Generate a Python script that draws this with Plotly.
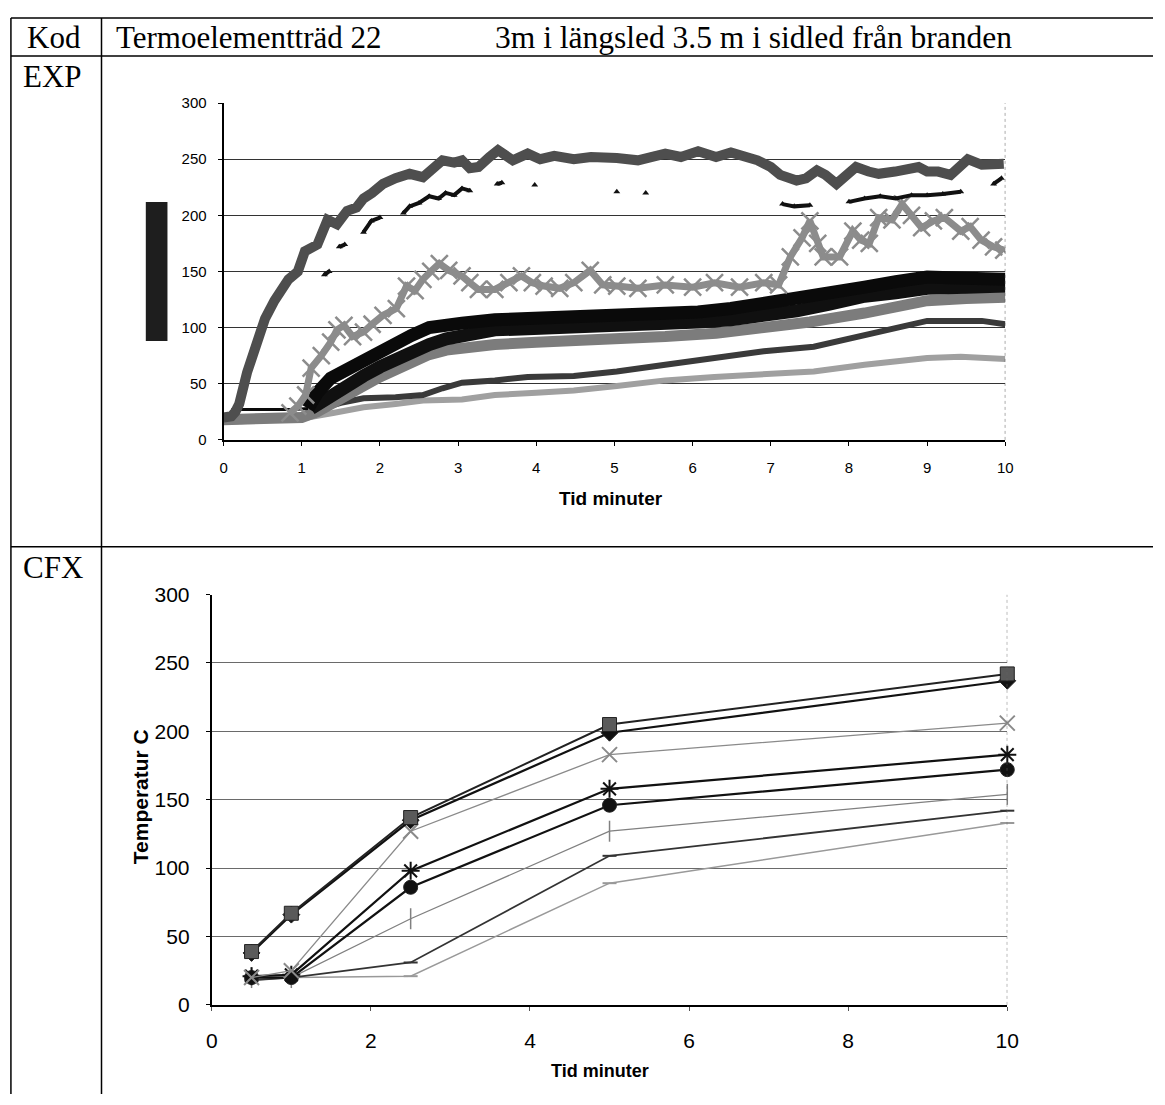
import plotly.graph_objects as go

tA = [0.0, 0.1, 0.15, 0.2, 0.3, 0.4, 0.53, 0.65, 0.83, 0.95,
      1.04, 1.2, 1.33, 1.45, 1.58, 1.7, 1.79, 1.9, 2.04, 2.2,
      2.38, 2.55, 2.7, 2.8, 2.95, 3.05, 3.15, 3.26, 3.4, 3.51,
      3.7, 3.89, 4.05, 4.23, 4.48, 4.7, 5.03, 5.3, 5.65, 5.85,
      6.07, 6.3, 6.49, 6.7, 6.83, 7.0, 7.12, 7.33, 7.45, 7.59,
      7.7, 7.84, 8.0, 8.09, 8.25, 8.38, 8.59, 8.75, 8.89, 9.0,
      9.14, 9.3, 9.52, 9.7, 9.85, 9.98]
vA = [20, 21, 25, 32, 60, 80, 108, 124, 143, 150,
      168, 174, 196, 192, 204, 207, 215, 220, 228, 233,
      237, 234, 244, 249, 247, 249, 242, 243, 252, 258,
      249, 255, 250, 253, 250, 252, 251, 249, 255, 252,
      257, 252, 256, 252, 249, 243, 236, 231, 233, 240,
      236, 228, 236, 243, 239, 237, 239, 242, 243, 239,
      239, 236, 250, 245, 246, 246]

tB = [1.29, 1.35, 1.42, 1.48, 1.55, 1.7, 1.79, 1.89, 2.0, 2.15,
      2.3, 2.38, 2.5, 2.63, 2.75, 2.84, 2.95, 3.05, 3.15, 3.3,
      3.5, 3.56, 3.8, 3.98, 4.5, 5.03, 5.2, 5.4, 6.5, 7.15,
      7.3, 7.5, 7.8, 8.0, 8.2, 8.4, 8.6, 8.8, 9.0, 9.2,
      9.43, 9.65, 9.85, 9.95]
vB = [147, 150, None, 172, 174, None, 185, 195, 198, None,
      202, 208, 211, 217, 215, 220, 218, 224, 222, None,
      228, 229, None, 227, None, 221, None, 220, None, 210,
      208, 209, None, 212, 215, 217, 215, 218, 218, 219,
      221, None, 228, 233]

tC = [0.85, 0.95, 1.05, 1.12, 1.25, 1.37, 1.45, 1.54, 1.65, 1.79,
      1.9, 2.04, 2.21, 2.34, 2.45, 2.55, 2.65, 2.76, 2.88, 3.05,
      3.15, 3.26, 3.47, 3.65, 3.81, 3.95, 4.1, 4.3, 4.48, 4.69,
      4.85, 5.03, 5.3, 5.65, 6.0, 6.28, 6.6, 6.91, 7.1, 7.25,
      7.4, 7.5, 7.6, 7.67, 7.88, 8.05, 8.15, 8.26, 8.38, 8.55,
      8.68, 8.8, 8.93, 9.08, 9.22, 9.43, 9.55, 9.69, 9.85, 9.98]
vC = [24, 30, 40, 64, 75, 87, 98, 102, 92, 96,
      103, 111, 117, 137, 133, 143, 150, 157, 151, 146,
      140, 134, 134, 140, 146, 140, 137, 135, 140, 151,
      138, 137, 135, 138, 136, 140, 136, 140, 138, 163,
      180, 195, 175, 163, 163, 186, 178, 175, 198, 196,
      210, 200, 189, 195, 198, 186, 190, 178, 172, 169]

# upper black series: thin flat start, then a thick band
tD0 = [0.1, 0.5, 0.9, 1.08]
vD0 = [27, 27, 27, 28]
tD1 = [1.08, 1.2, 1.37, 1.55, 1.79, 2.0,
       2.21, 2.4, 2.63, 2.85, 3.05, 3.47, 3.89, 4.48, 5.03, 5.65,
       6.07, 6.49, 6.91, 7.33, 7.75, 8.2, 8.6, 9.0, 9.5, 10.0]
vD1 = [28, 42, 55, 62, 72, 80,
       86, 93, 100, 103, 104, 107, 108, 109, 110, 112,
       114, 117, 121, 126, 131, 136, 141, 145, 144, 143]

tD2 = [1.12, 1.25, 1.37, 1.55, 1.79, 2.0, 2.21, 2.4, 2.63, 2.85,
       3.05, 3.47, 3.89, 4.48, 5.03, 5.65, 6.07, 6.49, 6.91, 7.33,
       7.75, 8.2, 8.6, 9.0, 9.5, 10.0]
vD2 = [28, 34, 40, 48, 57, 65, 72, 78, 85, 90,
       93, 98, 99, 100, 101, 103, 105, 107, 110, 115,
       121, 128, 131, 135, 136, 137]

tE = [0.0, 0.5, 1.0, 1.2, 1.4, 1.6, 1.79, 2.0, 2.21, 2.4,
      2.63, 2.85, 3.05, 3.47, 4.0, 4.48, 5.0, 5.65, 6.3, 6.91,
      7.5, 8.2, 8.6, 9.0, 9.5, 10.0]
vE = [18, 18, 20, 25, 32, 40, 48, 56, 63, 70,
      76, 80, 82, 85, 87, 88, 89, 92, 95, 99,
      105, 113, 119, 124, 126, 127]

tF = [0.0, 0.5, 1.0, 1.2, 1.5, 1.79, 2.2, 2.55, 2.8, 3.05,
      3.47, 3.89, 4.48, 5.03, 5.65, 6.28, 6.91, 7.55, 8.2, 8.59,
      9.0, 9.43, 9.7, 10.0]
vF = [20, 20, 22, 27, 33, 37, 38, 40, 46, 51,
      53, 56, 57, 61, 67, 73, 79, 83, 93, 99,
      106, 106, 106, 103]

tG = [0.0, 0.5, 1.0, 1.4, 1.79, 2.2, 2.55, 3.05, 3.47, 4.0,
      4.48, 5.03, 5.65, 6.28, 6.91, 7.55, 8.2, 8.6, 9.0, 9.43,
      9.7, 10.0]
vG = [16, 17, 19, 24, 29, 32, 35, 36, 40, 42,
      44, 48, 53, 56, 58, 61, 67, 70, 73, 74,
      73, 72]

# ---------------- CFX (simulated) data ----------------
cfx_t = [0.5, 1, 2.5, 5, 10]
cfx_square = [39, 67, 137, 205, 242]
cfx_diamond = [38, 66, 135, 199, 237]
cfx_xgray = [20, 25, 127, 183, 206]
cfx_asterisk = [21, 22, 98, 158, 183]
cfx_circle = [20, 20, 86, 146, 172]
cfx_plus = [20, 20, 63, 127, 154]
cfx_dash_dark = [18, 20, 31, 109, 142]
cfx_dash_light = [18, 20, 21, 89, 133]

y_ticks = [0, 50, 100, 150, 200, 250, 300]

# ---------------- text ----------------
hdr_kod = "Kod"
hdr_tree = "Termoelementträd 22"
hdr_pos = "3m i längsled 3.5 m i sidled från branden"
row_exp = "EXP"
row_cfx = "CFX"
x_title = "Tid minuter"
y_title = "Temperatur C"

W, H = 1165, 1105


def PX(x):
    return x / W


def PY(y):
    return 1 - y / H


fig = go.Figure()

# EXP traces
exp_specs = [
    (tG, vG, "#a0a0a0", 6),
    (tF, vF, "#3a3a3a", 6),
    (tE, vE, "#7c7c7c", 11),
    (tD2, vD2, "#101010", 13),
    (tD1, vD1, "#0a0a0a", 13),
    (tD0, vD0, "#0a0a0a", 3),
]
for t, v, col, w in exp_specs:
    fig.add_trace(go.Scatter(x=t, y=v, mode="lines", xaxis="x", yaxis="y",
                             line=dict(color=col, width=w), showlegend=False,
                             hoverinfo="skip"))
fig.add_trace(go.Scatter(x=tC, y=vC, mode="lines+markers", xaxis="x", yaxis="y",
                         line=dict(color="#8c8c8c", width=7),
                         marker=dict(symbol="x-thin-open", size=17,
                                     line=dict(color="#8c8c8c", width=2.5)),
                         showlegend=False, hoverinfo="skip"))
fig.add_trace(go.Scatter(x=tB, y=vB, mode="lines+markers", xaxis="x", yaxis="y",
                         line=dict(color="#111111", width=4),
                         marker=dict(symbol="triangle-up", size=6, color="#111111"),
                         connectgaps=False, showlegend=False, hoverinfo="skip"))
fig.add_trace(go.Scatter(x=tA, y=vA, mode="lines", xaxis="x", yaxis="y",
                         line=dict(color="#4e4e4e", width=10),
                         showlegend=False, hoverinfo="skip"))

# CFX traces
cfx_specs = [
    (cfx_dash_light, "#999999", 1.5, "line-ew-open", 10, "#999999", 2),
    (cfx_dash_dark, "#333333", 1.8, "line-ew-open", 10, "#333333", 2),
    (cfx_plus, "#808080", 1.3, "line-ns-open", 15, "#555555", 1.5),
    (cfx_circle, "#111111", 2.2, "circle", 14, "#111111", 1),
    (cfx_asterisk, "#111111", 2.2, "asterisk-open", 15, "#111111", 2),
    (cfx_xgray, "#8a8a8a", 1.3, "x-thin-open", 15, "#8a8a8a", 2),
    (cfx_diamond, "#111111", 2.2, "diamond", 13, "#111111", 1),
    (cfx_square, "#222222", 2.0, "square", 14, "#5a5a5a", 1),
]
for v, col, w, sym, ms, mcol, mlw in cfx_specs:
    if sym.endswith("-open"):
        mk = dict(symbol=sym, size=ms, line=dict(color=mcol, width=mlw))
    else:
        mk = dict(symbol=sym, size=ms, color=mcol, line=dict(color="#222222", width=mlw))
    fig.add_trace(go.Scatter(x=cfx_t, y=v, mode="lines+markers", xaxis="x2", yaxis="y2",
                             line=dict(color=col, width=w), marker=mk,
                             cliponaxis=False, showlegend=False, hoverinfo="skip"))

sans = "Liberation Sans, Arial, sans-serif"
serif = "Liberation Serif, Times New Roman, serif"

fig.update_layout(
    width=W, height=H,
    margin=dict(l=0, r=0, t=0, b=0),
    paper_bgcolor="white", plot_bgcolor="white",
    showlegend=False,
    xaxis=dict(domain=[PX(221), PX(1015)], range=[0, 10], dtick=1, anchor="y",
               showgrid=False, zeroline=False, showline=True, linecolor="black",
               linewidth=1.5, ticks="outside", ticklen=4, tickcolor="black",
               ticklabelstandoff=9,
               tickfont=dict(family=sans, size=15, color="black")),
    yaxis=dict(domain=[PY(437), PY(93)], range=[0, 300], tickvals=y_ticks, anchor="x",
               showgrid=True, gridcolor="#333333", gridwidth=1, zeroline=False,
               showline=True, linecolor="black", linewidth=2, ticks="outside",
               ticklen=4, tickcolor="black", ticklabelstandoff=8,
               tickfont=dict(family=sans, size=15, color="black")),
    xaxis2=dict(domain=[PX(209), PX(1017)], range=[0, 10], dtick=2, anchor="y2",
                showgrid=False, zeroline=False, showline=True, linecolor="black",
                linewidth=1.5, ticks="outside", ticklen=4, tickcolor="#555555",
                ticklabelstandoff=12,
                tickfont=dict(family=sans, size=21, color="black")),
    yaxis2=dict(domain=[PY(1014), PY(595)], range=[0, 300], tickvals=y_ticks, anchor="x2",
                showgrid=True, gridcolor="#6a6a6a", gridwidth=1, zeroline=False,
                showline=True, linecolor="black", linewidth=2, ticks="outside",
                ticklen=4, tickcolor="black", ticklabelstandoff=12,
                tickfont=dict(family=sans, size=21, color="black")),
)

shapes = []
# table rules
line_style = dict(color="black", width=1.5)
shapes.append(dict(type="line", xref="paper", yref="paper", x0=PX(5), x1=1, y0=PY(6), y1=PY(6), line=line_style))
shapes.append(dict(type="line", xref="paper", yref="paper", x0=PX(5), x1=1, y0=PY(45), y1=PY(45), line=line_style))
shapes.append(dict(type="line", xref="paper", yref="paper", x0=PX(5), x1=1, y0=PY(546), y1=PY(546), line=line_style))
shapes.append(dict(type="line", xref="paper", yref="paper", x0=PX(5), x1=PX(5), y0=PY(6), y1=0, line=line_style))
shapes.append(dict(type="line", xref="paper", yref="paper", x0=PX(97), x1=PX(97), y0=PY(6), y1=0, line=line_style))
# plot frames (right borders)
shapes.append(dict(type="line", xref="x", yref="y", x0=10, x1=10, y0=0, y1=300,
                   line=dict(color="#444444", width=1, dash="dot")))
shapes.append(dict(type="line", xref="x2", yref="y2", x0=10, x1=10, y0=0, y1=300,
                   line=dict(color="#666666", width=1, dash="dot")))
# blacked-out legend box in the EXP chart
shapes.append(dict(type="rect", xref="paper", yref="paper", x0=PX(142), x1=PX(164),
                   y0=PY(336), y1=PY(194), fillcolor="#1e1e1e", line=dict(width=0)))
fig.update_layout(shapes=shapes)

ann = []
hfont = dict(family=serif, size=31, color="black")
ann.append(dict(text=hdr_kod, x=PX(19), y=PY(26), xref="paper", yref="paper",
                xanchor="left", yanchor="middle", showarrow=False, font=hfont))
ann.append(dict(text=hdr_tree, x=PX(110), y=PY(26), xref="paper", yref="paper",
                xanchor="left", yanchor="middle", showarrow=False, font=hfont))
ann.append(dict(text=hdr_pos, x=PX(495), y=PY(26), xref="paper", yref="paper",
                xanchor="left", yanchor="middle", showarrow=False,
                font=dict(family=serif, size=31.5, color="black")))
ann.append(dict(text=row_exp, x=PX(15), y=PY(66), xref="paper", yref="paper",
                xanchor="left", yanchor="middle", showarrow=False, font=hfont))
ann.append(dict(text=row_cfx, x=PX(15), y=PY(567), xref="paper", yref="paper",
                xanchor="left", yanchor="middle", showarrow=False, font=hfont))
ann.append(dict(text="<b>" + x_title + "</b>", x=PX(615), y=PY(497), xref="paper", yref="paper",
                xanchor="center", yanchor="middle", showarrow=False,
                font=dict(family=sans, size=19, color="black")))
ann.append(dict(text="<b>" + x_title + "</b>", x=PX(603), y=PY(1082), xref="paper", yref="paper",
                xanchor="center", yanchor="middle", showarrow=False,
                font=dict(family=sans, size=18, color="black")))
ann.append(dict(text="<b>" + y_title + "</b>", x=PX(136), y=PY(801), xref="paper", yref="paper",
                xanchor="center", yanchor="middle", showarrow=False, textangle=-90,
                font=dict(family=sans, size=21, color="black")))
fig.update_layout(annotations=ann)

fig.write_html(
    "out.html",
    config={"displayModeBar": False},
    post_script=("document.documentElement.style.margin='0';"
                 "document.body.style.margin='0';document.body.style.padding='0';"
                 "document.documentElement.style.overflow='hidden';"),
)
